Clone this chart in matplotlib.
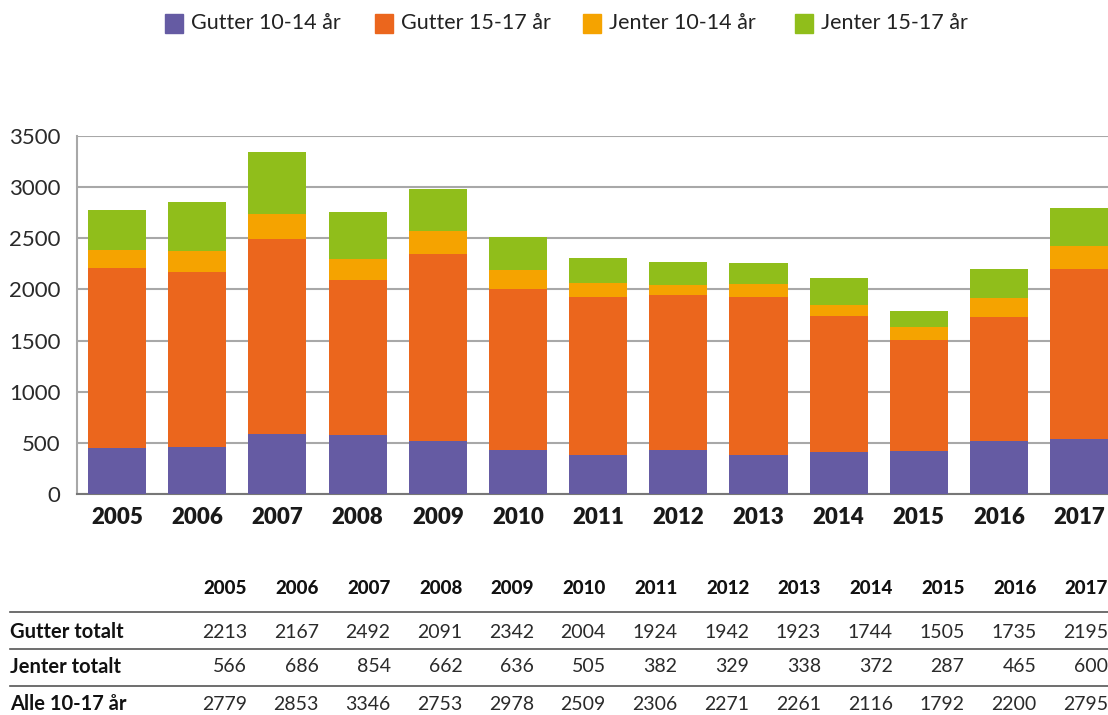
import numpy as np
import matplotlib
matplotlib.use('Agg')
import matplotlib.pyplot as plt
from matplotlib.patches import Rectangle

plt.rcParams['font.family'] = ['Lato', 'DejaVu Sans']

# data
years = ['2005', '2006', '2007', '2008', '2009', '2010', '2011',
         '2012', '2013', '2014', '2015', '2016', '2017']
gutter_10_14 = [445, 455, 590, 574, 523, 435, 377, 426, 377, 406, 416, 523, 542]
gutter_15_17 = [1768, 1712, 1902, 1517, 1819, 1569, 1547, 1516, 1546, 1338, 1089, 1212, 1653]
jenter_10_14 = [177, 204, 250, 203, 232, 186, 137, 100, 129, 104, 130, 184, 234]
jenter_15_17 = [389, 482, 604, 459, 404, 319, 245, 229, 209, 268, 157, 281, 366]

gutter_totalt = [2213, 2167, 2492, 2091, 2342, 2004, 1924, 1942, 1923, 1744, 1505, 1735, 2195]
jenter_totalt = [566, 686, 854, 662, 636, 505, 382, 329, 338, 372, 287, 465, 600]
alle_totalt = [2779, 2853, 3346, 2753, 2978, 2509, 2306, 2271, 2261, 2116, 1792, 2200, 2795]

series_names = ['Gutter 10-14 år', 'Gutter 15-17 år', 'Jenter 10-14 år', 'Jenter 15-17 år']
colors = ['#655BA3', '#EB661D', '#F5A300', '#90BE1B']

W, H = 1108, 715
fig = plt.figure(figsize=(W / 100, H / 100), dpi=100)

def fx(px):
    return px / W

def fy(py):
    return 1 - py / H

ax = fig.add_axes([fx(77), fy(494), fx(1108) - fx(77), fy(136) - fy(494)])

x = np.arange(len(years))
bottom = np.zeros(len(years))
for vals, col in zip([gutter_10_14, gutter_15_17, jenter_10_14, jenter_15_17], colors):
    ax.bar(x, vals, width=0.725, bottom=bottom, color=col, zorder=3)
    bottom += np.array(vals)

ax.set_xlim(-0.5, 12.36)
ax.set_ylim(0, 3500)
ax.set_yticks(np.arange(0, 3501, 500))
ax.yaxis.grid(True, color='#a8a8a8', linewidth=1.5, zorder=0)
ax.set_axisbelow(True)
ax.tick_params(axis='y', length=0, labelsize=16, pad=12, colors='#2a2a2a')
ax.tick_params(axis='x', length=0, pad=9)
ax.set_xticks(x)
ax.set_xticklabels(years, fontsize=16, fontweight='heavy', color='#1a1a1a')
for s in ['top', 'right']:
    ax.spines[s].set_visible(False)
ax.spines['left'].set_color('#a8a8a8')
ax.spines['left'].set_linewidth(1.5)
ax.spines['bottom'].set_color('#777777')
ax.spines['bottom'].set_linewidth(1.5)

# legend across the top
leg_x = [165, 375, 583, 795]
for lx, name, col in zip(leg_x, series_names, colors):
    fig.patches.append(Rectangle((fx(lx), fy(33)), fx(18), fy(14) - fy(33),
                                 transform=fig.transFigure, color=col))
    fig.text(fx(lx + 26), fy(23), name, fontsize=15.5,
             va='center', ha='left', color='#222222')

# table below
col_right = [247 + i * 71.75 for i in range(len(years))]
for cx, yr in zip(col_right, years):
    fig.text(fx(cx), fy(589), yr, fontsize=13.5, fontweight='black', ha='right', va='center',
             color='#111111')

rows = [('Gutter totalt', gutter_totalt, 632),
        ('Jenter totalt', jenter_totalt, 667),
        ('Alle 10-17 år', alle_totalt, 704)]
for label, vals, ry in rows:
    fig.text(fx(10), fy(ry), label, fontsize=14.5, fontweight='bold', ha='left', va='center',
             color='#111111')
    for cx, v in zip(col_right, vals):
        fig.text(fx(cx), fy(ry), str(v), fontsize=14, ha='right',
                 va='center', color='#2a2a2a')

for ly in [612, 649, 686]:
    fig.add_artist(plt.Line2D([fx(10), fx(1108)], [fy(ly), fy(ly)], transform=fig.transFigure,
                              color='#555555', linewidth=1.2))

fig.savefig('out.png', dpi=100)
